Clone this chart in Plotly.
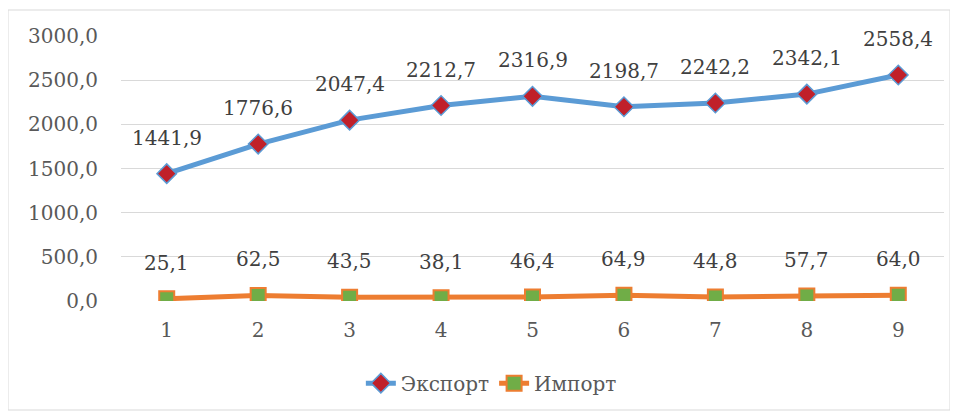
import plotly.graph_objects as go

categories = ["1", "2", "3", "4", "5", "6", "7", "8", "9"]
export_vals = [1441.9, 1776.6, 2047.4, 2212.7, 2316.9, 2198.7, 2242.2, 2342.1, 2558.4]
import_vals = [25.1, 62.5, 43.5, 38.1, 46.4, 64.9, 44.8, 57.7, 64.0]
y_ticks = [0, 500, 1000, 1500, 2000, 2500, 3000]

W, H = 950, 411
ML, MR, MT, MB = 113, 14, 28, 118
pw, ph = W - ML - MR, H - MT - MB

FONT = "DejaVu Serif"

def fmt(v):
    return f"{v:.1f}".replace(".", ",")

fig = go.Figure()
fig.add_trace(go.Scatter(
    x=categories, y=export_vals, name="Экспорт", mode="lines+markers",
    line=dict(color="#5B9BD5", width=5),
    marker=dict(symbol="diamond", size=15, color="#C0202A", line=dict(color="#5B9BD5", width=1.5)),
))
fig.add_trace(go.Scatter(
    x=categories, y=import_vals, name="Импорт", mode="lines+markers",
    line=dict(color="#ED7D31", width=5),
    marker=dict(symbol="square", size=15, color="#70AD47", line=dict(color="#ED7D31", width=2)),
))

annotations = []
for vals in (export_vals, import_vals):
    for i, v in enumerate(vals):
        annotations.append(dict(
            x=i, y=v, xref="x", yref="y", text=fmt(v), showarrow=False, yshift=36,
            font=dict(family=FONT, size=20, color="#404040"),
        ))

fig.update_layout(
    width=W, height=H,
    margin=dict(l=ML, r=MR, t=MT, b=MB),
    paper_bgcolor="white", plot_bgcolor="white",
    separators=", ",
    font=dict(family=FONT, size=20, color="#595959"),
    showlegend=True,
    legend=dict(orientation="h", x=0.45, xanchor="center", y=-0.31, yanchor="middle",
                font=dict(family=FONT, size=20, color="#595959"),
                tracegroupgap=0),
    annotations=annotations,
    xaxis=dict(type="category", range=[-0.5, 8.5], showgrid=False, zeroline=False,
               showline=False, ticks="", ticklabelstandoff=15,
               tickfont=dict(family=FONT, size=20, color="#595959")),
    yaxis=dict(range=[0, 3000], tickvals=y_ticks, tickformat=".1f", showgrid=True,
               gridcolor="#D9D9D9", gridwidth=1, zeroline=False, showline=False,
               ticks="", ticklabelstandoff=22,
               tickfont=dict(family=FONT, size=20, color="#595959")),
    shapes=[dict(type="rect", xref="paper", yref="paper",
                 x0=(0 - ML) / pw, x1=(942 - ML) / pw,
                 y0=(H - MB - 402) / ph, y1=(H - MB - 2) / ph,
                 line=dict(color="#D9D9D9", width=1), fillcolor="rgba(0,0,0,0)", layer="below")],
)

fig.write_html("out.html")
